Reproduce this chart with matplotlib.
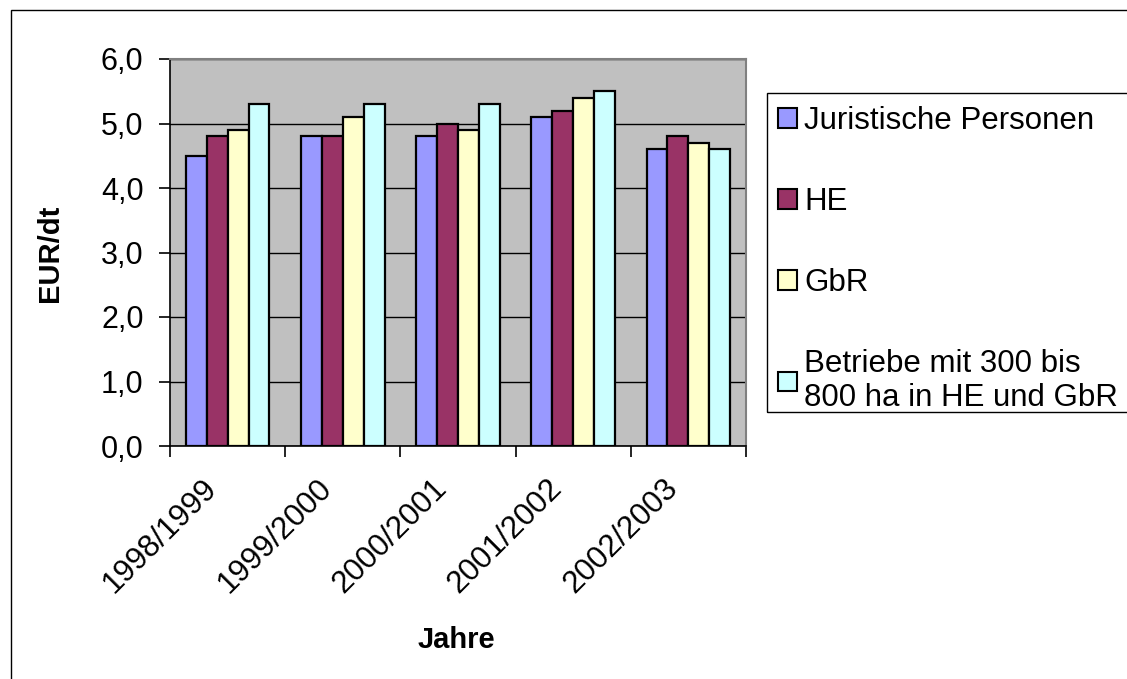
import numpy as np
import matplotlib
matplotlib.use("Agg")
import matplotlib.pyplot as plt
import matplotlib.transforms as mtransforms
from matplotlib.patches import Rectangle
from matplotlib.ticker import FuncFormatter, FixedLocator

plt.rcParams['font.family'] = ['Liberation Sans', 'DejaVu Sans']

jahre = ['1998/1999', '1999/2000', '2000/2001', '2001/2002', '2002/2003']
serien = ['Juristische Personen', 'HE', 'GbR', 'Betriebe mit 300 bis\n800 ha in HE und GbR']
juristisch = [4.5, 4.8, 4.8, 5.1, 4.6]
he = [4.8, 4.8, 5.0, 5.2, 4.8]
gbr = [4.9, 5.1, 4.9, 5.4, 4.7]
betriebe = [5.3, 5.3, 5.3, 5.5, 4.6]
farben = ['#9999FF', '#993366', '#FFFFCC', '#CCFFFF']

W, H = 1127, 679
fig = plt.figure(figsize=(W / 100, H / 100), dpi=100)
ax = fig.add_axes([170 / W, 1 - 446 / H, (746 - 170) / W, (446 - 59) / H])
ax.set_facecolor('#C0C0C0')

x = np.arange(len(jahre))
bw = 1 / 5.5
for i, (werte, farbe, name) in enumerate(zip([juristisch, he, gbr, betriebe], farben, serien)):
    ax.bar(x + (i - 1.5) * bw, werte, bw, color=farbe, edgecolor='black',
           linewidth=1.6, label=name, zorder=3)

ax.set_xlim(-0.5, len(jahre) - 0.5)
ax.set_ylim(0, 6)
ax.yaxis.set_major_locator(FixedLocator(np.arange(0, 7)))
ax.yaxis.set_major_formatter(FuncFormatter(lambda v, p: f'{v:.1f}'.replace('.', ',')))
ax.grid(axis='y', color='black', linewidth=1.0, zorder=1)

ax.set_xticks(x)
ax.set_xticklabels(jahre, rotation=45, ha='right', va='top', rotation_mode='anchor')
ax.tick_params(axis='x', length=0, pad=14, labelsize=22.5)
verschiebung = mtransforms.ScaledTranslation(-26 / 100, -8 / 100, fig.dpi_scale_trans)
for lbl in ax.get_xticklabels():
    lbl.set_transform(lbl.get_transform() + verschiebung)
ax.set_xticks(np.arange(-0.5, len(jahre)), minor=True)
ax.tick_params(axis='x', which='minor', length=8, width=1.2, direction='out', color='black')
ax.tick_params(axis='y', length=8, width=1.2, direction='out', labelsize=22, pad=11)

for s in ['top', 'right']:
    ax.spines[s].set_color('#808080')
    ax.spines[s].set_linewidth(1.5)
for s in ['left', 'bottom']:
    ax.spines[s].set_color('black')
    ax.spines[s].set_linewidth(1.2)

fig.text(50 / W, 1 - 253 / H, 'EUR/dt', rotation=90, ha='center', va='center',
         fontsize=21, fontweight='bold')
fig.text(456 / W, 1 - 640 / H, 'Jahre', ha='center', va='center',
         fontsize=21, fontweight='bold')

leg = ax.legend(loc='upper left', bbox_to_anchor=(767 / W, 1 - 95 / H),
                bbox_transform=fig.transFigure, fontsize=22.5, frameon=False,
                handlelength=0.6, handleheight=0.6, handletextpad=0.25,
                labelspacing=1.63, borderpad=0.35, borderaxespad=0)
for h in leg.legend_handles:
    h.set_linewidth(1.5)

# Legendenrahmen (rechts ueber den Rand hinaus)
fig.patches.append(Rectangle((767 / W, 1 - 412 / H), 0.5, (412 - 93) / H,
                             transform=fig.transFigure, fill=False,
                             edgecolor='black', linewidth=1.0))
# aeusserer Diagrammrahmen (nur links und oben sichtbar)
fig.patches.append(Rectangle((11 / W, -0.1), 1.2, 1 - 10 / H + 0.1,
                             transform=fig.transFigure, fill=False,
                             edgecolor='black', linewidth=1.0))

fig.savefig('out.png', dpi=100)
